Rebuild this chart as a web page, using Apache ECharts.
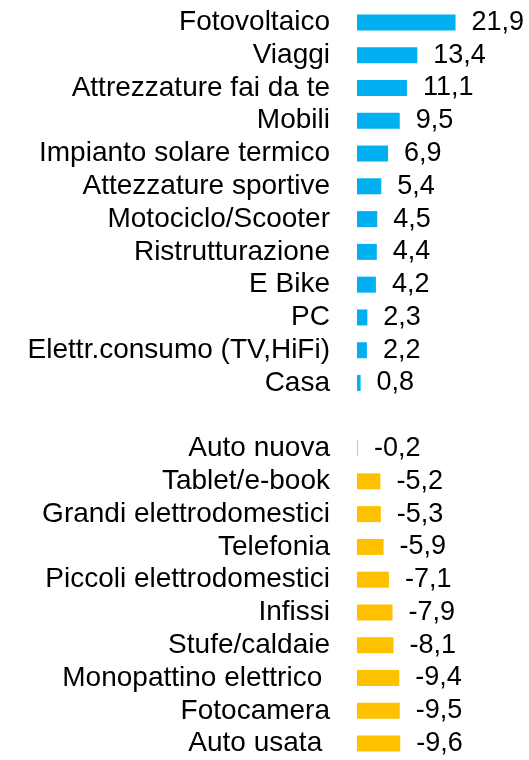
<!DOCTYPE html>
<html>
  <head>
    <meta charset="utf-8">
    <title></title>
    <style>
      html, body{ margin: 0; padding: 0; background: #fff; }
      #wrap{ width: 529px; height: 760px; }
    </style>
    <script src="https://cdn.jsdelivr.net/npm/echarts@6/dist/echarts.min.js" charset="utf-8"></script>
  </head>
  <body>
    <div id="wrap"></div>
    <script>
      // categorie, dall'alto in basso ('' = riga vuota di separazione)
      var categories = [
        'Fotovoltaico', 'Viaggi', 'Attrezzature fai da te', 'Mobili',
        'Impianto solare termico', 'Attezzature sportive', 'Motociclo/Scooter',
        'Ristrutturazione', 'E Bike', 'PC', 'Elettr.consumo (TV,HiFi)', 'Casa',
        '',
        'Auto nuova', 'Tablet/e-book', 'Grandi elettrodomestici', 'Telefonia',
        'Piccoli elettrodomestici', 'Infissi', 'Stufe/caldaie',
        'Monopattino elettrico ', 'Fotocamera', 'Auto usata '
      ];
      var values = [
        21.9, 13.4, 11.1, 9.5, 6.9, 5.4, 4.5, 4.4, 4.2, 2.3, 2.2, 0.8,
        null,
        -0.2, -5.2, -5.3, -5.9, -7.1, -7.9, -8.1, -9.4, -9.5, -9.6
      ];

      var posColor = '#00B0F0';
      var negColor = '#FFC000';
      var font = 'Liberation Sans, Arial, sans-serif';

      // la barra mostra il valore assoluto, l'etichetta il valore con segno
      var barData = values.map(function (v) {
        if (v === null) return null;
        return {
          value: Math.abs(v),
          raw: v,
          itemStyle: { color: v < 0 ? negColor : posColor }
        };
      });

      var chart = echarts.init(document.getElementById('wrap'));
      var option = {
        animation: false,
        grid: { left: 357, top: 6, width: 135, height: 758 },
        xAxis: {
          type: 'value',
          min: 0,
          max: 30,
          show: false
        },
        yAxis: {
          type: 'category',
          inverse: true,
          data: categories,
          axisLine: { show: false },
          axisTick: { show: false },
          axisLabel: {
            interval: 0,
            margin: 27,
            fontSize: 28,
            fontFamily: font,
            color: '#000',
            padding: [3, 0, 0, 0]
          }
        },
        series: [{
          type: 'bar',
          barWidth: 16,
          data: barData,
          label: {
            show: true,
            position: 'right',
            distance: 16,
            fontSize: 27,
            fontFamily: font,
            color: '#000',
            padding: [3, 0, 0, 0],
            formatter: function (p) {
              return String(p.data.raw).replace('.', ',');
            }
          }
        }]
      };
      chart.setOption(option);
    </script>
  </body>
</html>
